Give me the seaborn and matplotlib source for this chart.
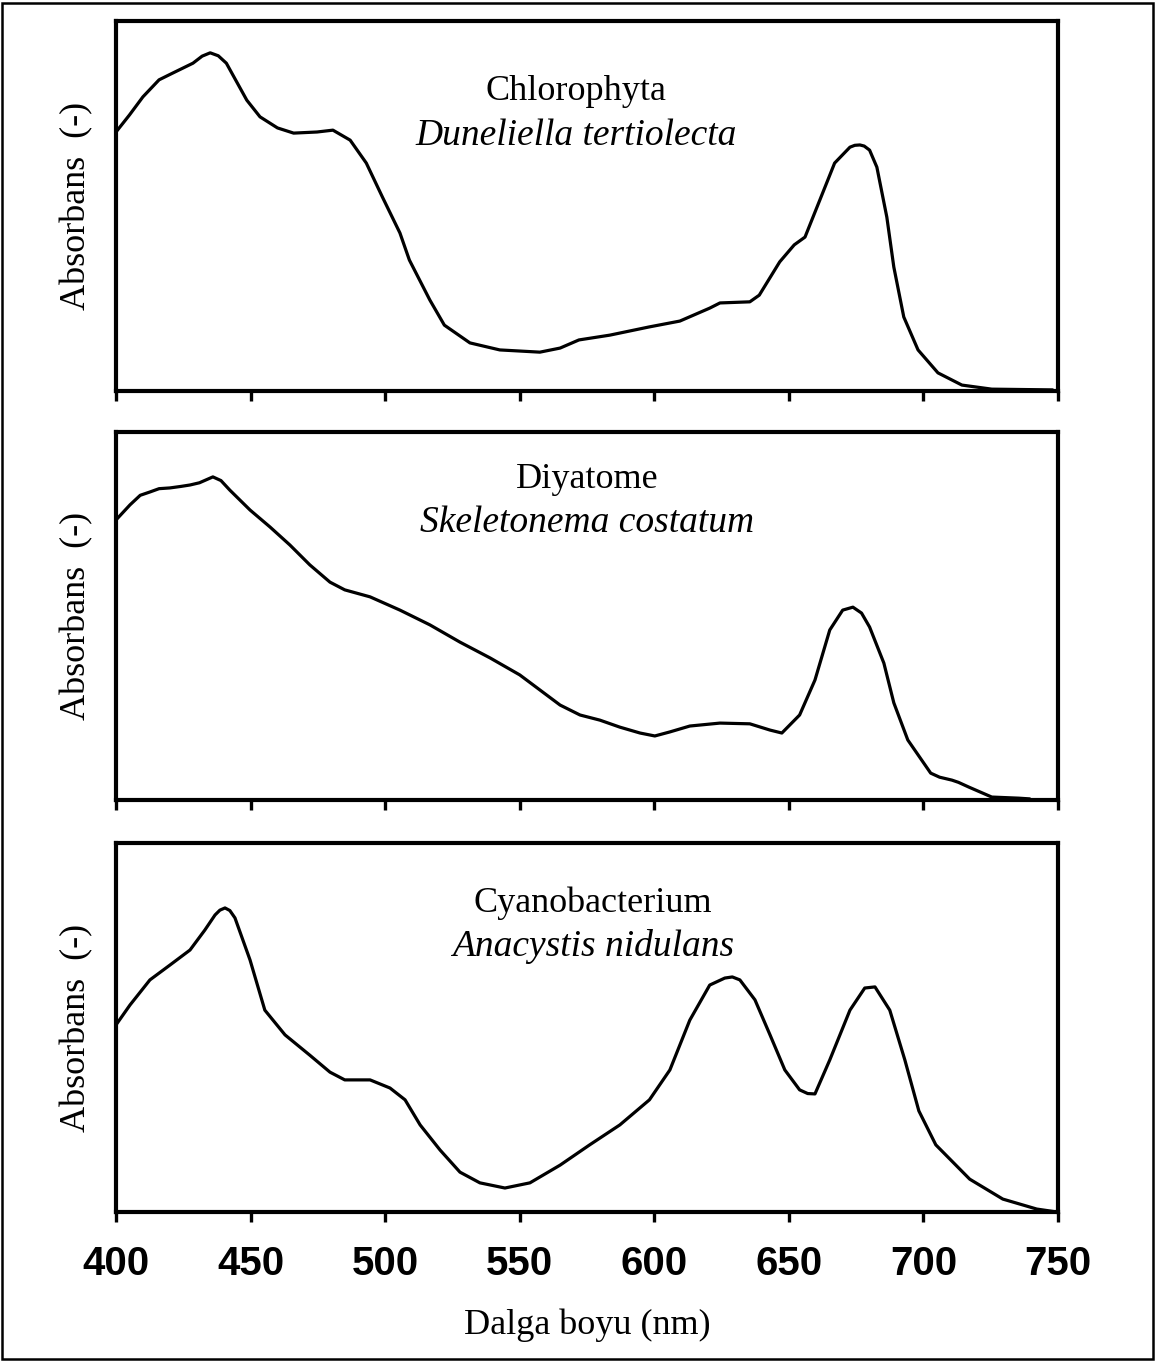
import matplotlib
matplotlib.use("Agg")
import matplotlib.pyplot as plt
import seaborn as sns
import pandas as pd
from matplotlib.patches import Rectangle

# ---- data (relative absorbance) ----
chl_nm = [400, 405, 410, 416, 421, 428.6, 432, 435, 438, 441, 448.6, 453.5, 460, 466, 474.7, 480.6,
          487, 493, 499, 505.5, 509, 516.6, 522, 531.5, 542.6, 557.5, 565, 572, 583.5, 598,
          609.5, 620.6, 624.4, 635.5, 639, 646.6, 652, 656, 661.5, 667, 672.7, 674.5, 676.4, 678, 680,
          682.7, 686.4, 689, 692.7, 698, 705.4, 714.3, 725.4, 748]
chl_abs = [0.700, 0.746, 0.795, 0.841, 0.859, 0.886, 0.905, 0.914, 0.906, 0.886, 0.786, 0.741, 0.711, 0.697,
           0.700, 0.705, 0.678, 0.616, 0.524, 0.427, 0.354, 0.246, 0.178, 0.130, 0.111, 0.105,
           0.116, 0.138, 0.151, 0.173, 0.189, 0.224, 0.238, 0.241, 0.259, 0.349, 0.395, 0.416,
           0.516, 0.616, 0.659, 0.664, 0.665, 0.662, 0.651, 0.605, 0.470, 0.335, 0.200, 0.111, 0.049, 0.016,
           0.005, 0.003]

dia_nm = [400, 405.2, 409, 412.6, 416, 420, 424, 427.5, 431, 436, 439, 442.3, 449.8, 457.2, 464.6, 472,
          479.5, 485, 494.4, 505.5, 516.6, 527.8, 539, 550, 557.5, 565, 572.4, 579.8, 587.2, 594.7,
          600.2, 605.8, 613.2, 624.4, 635.5, 643, 647.4, 654, 659.7, 665.2, 670, 673.8, 677, 680,
          685.3, 689, 694.2, 702.7, 706, 710.6, 713, 716.9, 725.4, 735.4, 739.5]
dia_abs = [0.761, 0.802, 0.828, 0.837, 0.846, 0.848, 0.852, 0.856, 0.862, 0.878, 0.868, 0.842,
           0.788, 0.742, 0.693, 0.639, 0.592, 0.571, 0.552, 0.516, 0.476, 0.429, 0.386, 0.340,
           0.299, 0.258, 0.231, 0.217, 0.198, 0.182, 0.174, 0.185, 0.201, 0.209, 0.207, 0.190,
           0.182, 0.231, 0.326, 0.462, 0.516, 0.524, 0.508, 0.470, 0.372, 0.264, 0.163, 0.073,
           0.062, 0.054, 0.048, 0.035, 0.008, 0.005, 0.003]

cya_nm = [400, 405.2, 412.6, 420, 427.5, 433, 436.8, 438.6, 440.5, 442.3, 444.2, 449.8, 455.3,
          462.8, 472, 479.5, 485, 494.4, 501.8, 507.4, 513, 520.4, 527.8, 535.2, 544.5, 553.8,
          565, 576, 587.2, 598.2, 605.8, 613.2, 620.6, 626.2, 629, 631.8, 637.4, 643, 648.5, 654,
          657, 659.7, 665.2, 672.7, 678.2, 682, 687.5, 693.1, 698.3, 704.6, 717.2, 729.5, 742.1,
          749.6]
cya_abs = [0.507, 0.561, 0.629, 0.669, 0.710, 0.764, 0.805, 0.818, 0.824, 0.817, 0.797, 0.683,
           0.547, 0.480, 0.425, 0.379, 0.358, 0.358, 0.336, 0.304, 0.236, 0.168, 0.108, 0.079,
           0.065, 0.079, 0.127, 0.182, 0.236, 0.304, 0.385, 0.520, 0.615, 0.634, 0.637, 0.629,
           0.575, 0.480, 0.385, 0.331, 0.321, 0.320, 0.412, 0.547, 0.607, 0.610, 0.547, 0.412,
           0.274, 0.182, 0.089, 0.035, 0.008, 0.000]

group_names = ["Chlorophyta", "Diyatome", "Cyanobacterium"]
species_names = ["Duneliella tertiolecta", "Skeletonema costatum", "Anacystis nidulans"]
x_ticks = [400, 450, 500, 550, 600, 650, 700, 750]
y_label = "Absorbans  (-)"
x_label = "Dalga boyu (nm)"

# ---- figure ----
sns.set_style("ticks")
plt.rcParams["font.family"] = ["Liberation Serif", "DejaVu Serif"]
plt.rcParams["text.color"] = "black"
plt.rcParams["axes.labelcolor"] = "black"
plt.rcParams["xtick.color"] = "black"

W, H = 1155, 1362
fig = plt.figure(figsize=(W / 100, H / 100), dpi=100)

panels = [
    (chl_nm, chl_abs, 21, 391, 0.488, 0.81, 0.69),
    (dia_nm, dia_abs, 432, 800, 0.500, 0.87, 0.753),
    (cya_nm, cya_abs, 843, 1212, 0.506, 0.837, 0.72),
]
left_px, right_px = 116, 1058

for i, (xs, ys, top_px, bot_px, tx, ty1, ty2) in enumerate(panels):
    ax = fig.add_axes([left_px / W, 1 - bot_px / H, (right_px - left_px) / W, (bot_px - top_px) / H])
    df = pd.DataFrame({"nm": xs, "abs": ys})
    sns.lineplot(data=df, x="nm", y="abs", ax=ax, color="black", linewidth=2.3, sort=False,
                 solid_joinstyle="round", solid_capstyle="round")
    ax.set_xlim(400, 750)
    ax.set_ylim(0, 1)
    ax.set_yticks([])
    ax.set_xticks(x_ticks)
    for sp in ax.spines.values():
        sp.set_linewidth(3)
        sp.set_color("black")
    ax.tick_params(axis="x", direction="out", length=7, width=2.4, colors="black", pad=17)
    ax.set_ylabel(y_label, fontsize=26, labelpad=16, color="black")
    ax.set_xlabel("")
    ax.text(tx, ty1, group_names[i], transform=ax.transAxes, ha="center", va="center",
            fontsize=26, color="black")
    ax.text(tx, ty2, species_names[i], transform=ax.transAxes, ha="center", va="center",
            fontsize=27, style="italic", color="black")
    if i < 2:
        ax.set_xticklabels([])
    else:
        ax.set_xticklabels([str(t) for t in x_ticks], fontsize=29, fontweight="bold",
                           family=["Liberation Sans", "DejaVu Sans"], color="black")
        ax.set_xlabel(x_label, fontsize=26, labelpad=18, color="black")

fig.patches.append(Rectangle((0.002, 0.002), 0.996, 0.996, transform=fig.transFigure,
                             fill=False, edgecolor="black", linewidth=1.8))

fig.savefig("out.png", dpi=100, facecolor="white")
